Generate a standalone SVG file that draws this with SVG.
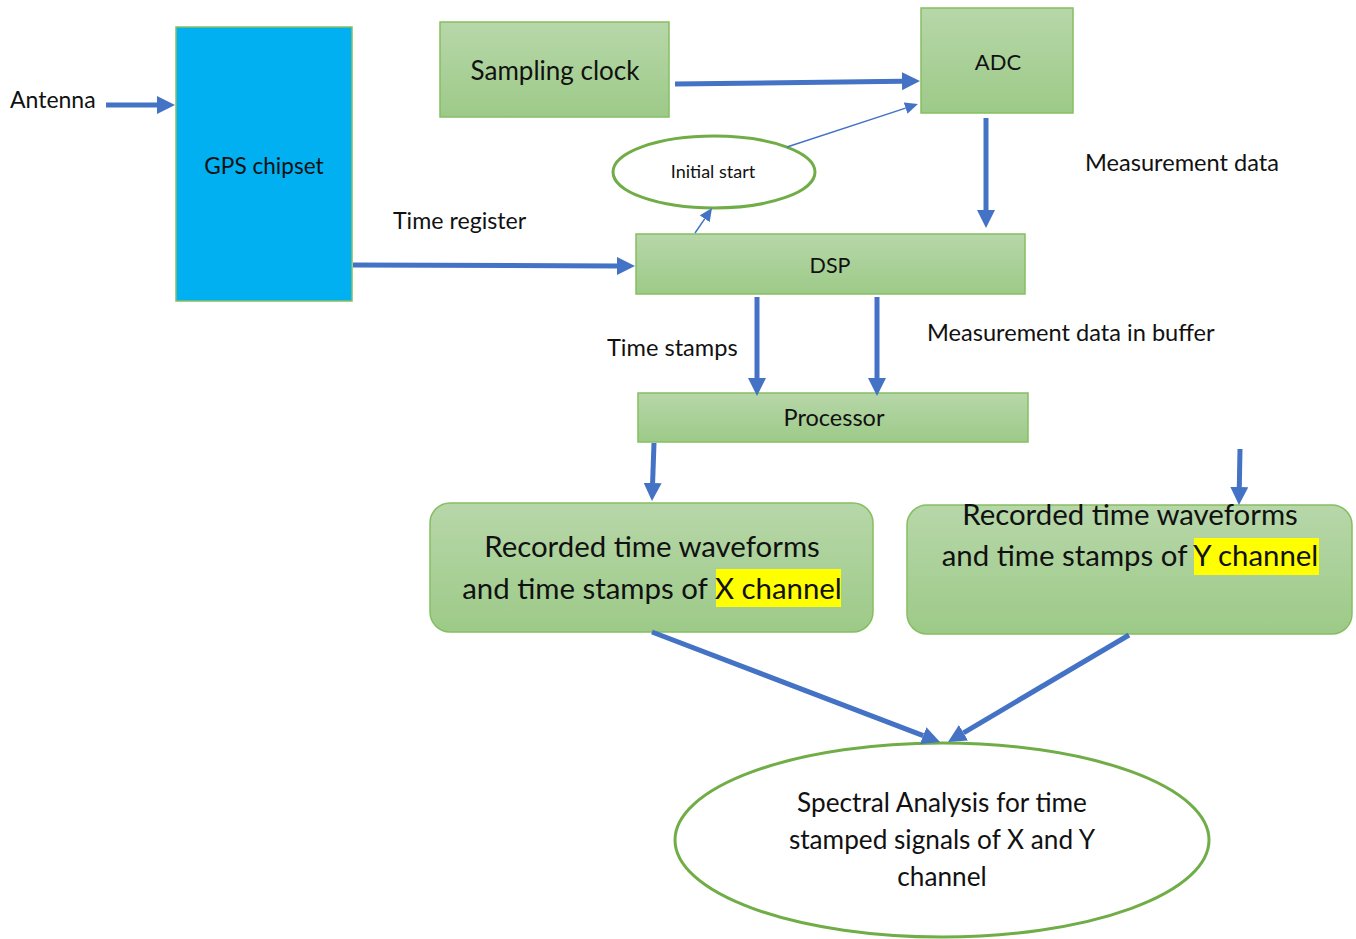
<svg xmlns="http://www.w3.org/2000/svg" width="1356" height="939" viewBox="0 0 1356 939">
<defs>
<linearGradient id="g" x1="0" y1="0" x2="0" y2="1">
<stop offset="0" stop-color="#b7d7a9"/>
<stop offset="1" stop-color="#9dca88"/>
</linearGradient>
<marker id="ab" markerUnits="userSpaceOnUse" viewBox="0 -9 18 18" markerWidth="18" markerHeight="18" refX="0" refY="0" orient="auto">
<path d="M0,-9 L18,0 L0,9 z" fill="#4472c4"/>
</marker>
<marker id="as" markerUnits="userSpaceOnUse" viewBox="0 -6 13 12" markerWidth="13" markerHeight="12" refX="0" refY="0" orient="auto">
<path d="M0,-6 L13,0 L0,6 z" fill="#4472c4"/>
</marker>
<style>
.box{fill:url(#g);stroke:#86bf62;stroke-width:1.5}
.ell{fill:#ffffff;stroke:#70ad47;stroke-width:3}
.t{font-family:Lato,"Open Sans","Liberation Sans",sans-serif;fill:#111111}
.c{text-anchor:middle}
.big{stroke:#4472c4;stroke-width:5;fill:none;marker-end:url(#ab)}
.thin{stroke:#4472c4;stroke-width:1.5;fill:none;marker-end:url(#as)}
.hl{fill:#ffff00}
</style>
</defs>
<rect width="1356" height="939" fill="#ffffff"/>

<g id="gps">
<rect x="176" y="27" width="176" height="274" fill="#00b0f0" stroke="#86bf62" stroke-width="1.5"/>
<text class="t c" x="264" y="174" font-size="22.6">GPS chipset</text>
</g>
<g id="antenna-label"><text class="t" x="10" y="108" font-size="23">Antenna</text></g>
<g id="sampling">
<rect class="box" x="440" y="22" width="229" height="95"/>
<text class="t c" x="555" y="80" font-size="26">Sampling clock</text>
</g>
<g id="adc">
<rect class="box" x="921" y="8" width="152" height="105"/>
<text class="t c" x="998" y="70" font-size="22">ADC</text>
</g>
<g id="initial">
<ellipse class="ell" cx="714" cy="172" rx="101" ry="36"/>
<text class="t c" x="713" y="178" font-size="18">Initial start</text>
</g>
<g id="dsp">
<rect class="box" x="636" y="234" width="389" height="60"/>
<text class="t c" x="830" y="273" font-size="21.5">DSP</text>
</g>
<g id="processor">
<rect class="box" x="638" y="393" width="390" height="49"/>
<text class="t c" x="834" y="426" font-size="23.5">Processor</text>
</g>
<g id="xbox">
<rect class="box" x="430" y="503" width="443" height="129" rx="20"/>
<rect class="hl" x="716" y="569" width="125" height="38"/>
<text class="t c" x="652" y="557" font-size="29.4">Recorded time waveforms</text>
<text class="t c" x="652" y="599" font-size="29.4">and time stamps of X channel</text>
</g>
<g id="ybox">
<rect class="box" x="907" y="505" width="445" height="129" rx="20"/>
<rect class="hl" x="1194" y="538" width="125" height="37"/>
<text class="t c" x="1130" y="525" font-size="29.4">Recorded time waveforms</text>
<text class="t c" x="1130" y="566" font-size="29.4">and time stamps of Y channel</text>
</g>
<g id="spectral">
<ellipse class="ell" cx="942" cy="840" rx="267" ry="97"/>
<text class="t c" x="942" y="812" font-size="26.2">Spectral Analysis for time</text>
<text class="t c" x="942" y="849" font-size="26.2">stamped signals of X and Y</text>
<text class="t c" x="942" y="886" font-size="26.2">channel</text>
</g>
<g id="labels">
<text class="t" x="393" y="229" font-size="23.2">Time register</text>
<text class="t" x="1085" y="171" font-size="23.6">Measurement data</text>
<text class="t" x="607" y="356" font-size="23.6">Time stamps</text>
<text class="t" x="927" y="341" font-size="23.6">Measurement data in buffer</text>
</g>
<g id="connectors">
<line class="big" x1="106" y1="105" x2="157" y2="105"/>
<line class="big" x1="675" y1="84" x2="902" y2="81.2"/>
<line class="big" x1="353" y1="265" x2="617" y2="266"/>
<line class="big" x1="986" y1="118" x2="986" y2="210"/>
<line class="big" x1="757" y1="297" x2="757" y2="378"/>
<line class="big" x1="877" y1="297" x2="877" y2="378"/>
<line class="big" x1="654" y1="443" x2="652.6" y2="483"/>
<line class="big" x1="1240" y1="449" x2="1239.3" y2="487"/>
<line class="big" x1="652" y1="632" x2="923.2" y2="735.6"/>
<line class="big" x1="1129" y1="635" x2="963.5" y2="732.8"/>
<line class="thin" x1="787" y1="147" x2="905.6" y2="108.1"/>
<line class="thin" x1="695" y1="233" x2="704.7" y2="218.8"/>
</g>
</svg>
